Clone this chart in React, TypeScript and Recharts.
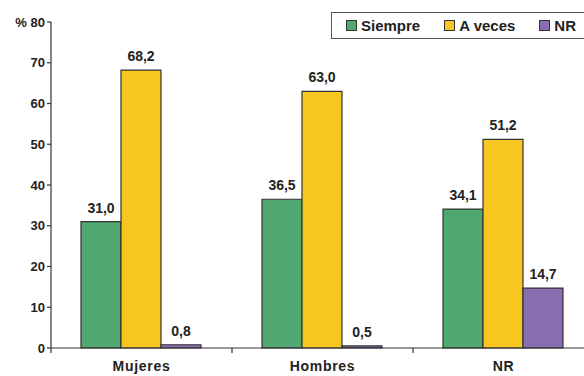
import { Bar, BarChart, LabelList, XAxis, YAxis } from "recharts";

const groups = ["Mujeres", "Hombres", "NR"];
const siempre = [31.0, 36.5, 34.1];
const aVeces = [68.2, 63.0, 51.2];
const nr = [0.8, 0.5, 14.7];
const yTicks = [0, 10, 20, 30, 40, 50, 60, 70, 80];

const series = [
  { key: "siempre", name: "Siempre", color: "#4fa86f" },
  { key: "aVeces", name: "A veces", color: "#f8c620" },
  { key: "nr", name: "NR", color: "#8a6db0" },
];

const data = groups.map((g, i) => ({
  g,
  siempre: siempre[i],
  aVeces: aVeces[i],
  nr: nr[i],
}));

const W = 600;
const H = 376;
const M = { top: 22, right: 6, bottom: 0, left: 0 };
const X_H = 28;
const Y_W = 51;
const BAND = (W - M.left - M.right - Y_W) / groups.length;
const FONT = "'Liberation Sans', Arial, sans-serif";
const INK = "#222";

const fmt = (v: number) => v.toFixed(1).replace(".", ",");

// Category label centred, with a tick mark on the band's left edge.
function CatTick({ x, y, payload }: any) {
  return (
    <g>
      <line x1={x - BAND / 2} x2={x - BAND / 2} y1={y - 8} y2={y - 3} stroke="#333" strokeWidth={1.2} />
      <text
        x={x}
        y={y + 15}
        textAnchor="middle"
        fontFamily={FONT}
        fontWeight="bold"
        fontSize={14}
        letterSpacing={0.7}
        fill={INK}
      >
        {payload.value}
      </text>
    </g>
  );
}

function LegendBox() {
  return (
    <div
      style={{
        position: "absolute",
        top: 12,
        left: 331,
        width: 300,
        boxSizing: "border-box",
        display: "flex",
        alignItems: "center",
        height: 27,
        paddingLeft: 14,
        border: "1.5px solid #555",
        background: "#fff",
        fontFamily: FONT,
        fontWeight: "bold",
        fontSize: 15,
        color: INK,
        whiteSpace: "nowrap",
      }}
    >
      {series.map((s) => (
        <span key={s.key} style={{ display: "flex", alignItems: "center", marginRight: 24 }}>
          <span
            style={{
              width: 9,
              height: 9,
              background: s.color,
              border: "1px solid #333",
              marginRight: 4,
            }}
          />
          {s.name}
        </span>
      ))}
    </div>
  );
}

export default function App() {
  return (
    <div style={{ position: "absolute", left: 0, top: 0, width: 584, height: 376, overflow: "hidden", background: "#fff" }}>
      <BarChart width={W} height={H} data={data} margin={M} barCategoryGap={30} barGap={0}>
        <XAxis
          dataKey="g"
          tick={<CatTick />}
          tickLine={false}
          axisLine={{ stroke: "#333", strokeWidth: 1.2 }}
          interval={0}
          height={X_H}
        />
        <YAxis
          domain={[0, 80]}
          ticks={yTicks}
          width={Y_W}
          interval={0}
          tickSize={4}
          tickLine={{ stroke: "#333", strokeWidth: 1.2 }}
          axisLine={{ stroke: "#333", strokeWidth: 1.2 }}
          tick={{ fill: INK, fontSize: 13, fontWeight: "bold", fontFamily: FONT }}
          tickFormatter={(v) => (v === 80 ? "% 80" : String(v))}
        />
        {series.map((s) => (
          <Bar
            key={s.key}
            dataKey={s.key}
            name={s.name}
            fill={s.color}
            stroke="#333"
            strokeWidth={1.2}
            isAnimationActive={false}
          >
            <LabelList
              dataKey={s.key}
              position="top"
              offset={9}
              formatter={(v: any) => fmt(Number(v))}
              style={{ fill: INK, fontSize: 14, fontWeight: "bold", fontFamily: FONT }}
            />
          </Bar>
        ))}
      </BarChart>
      <LegendBox />
    </div>
  );
}
